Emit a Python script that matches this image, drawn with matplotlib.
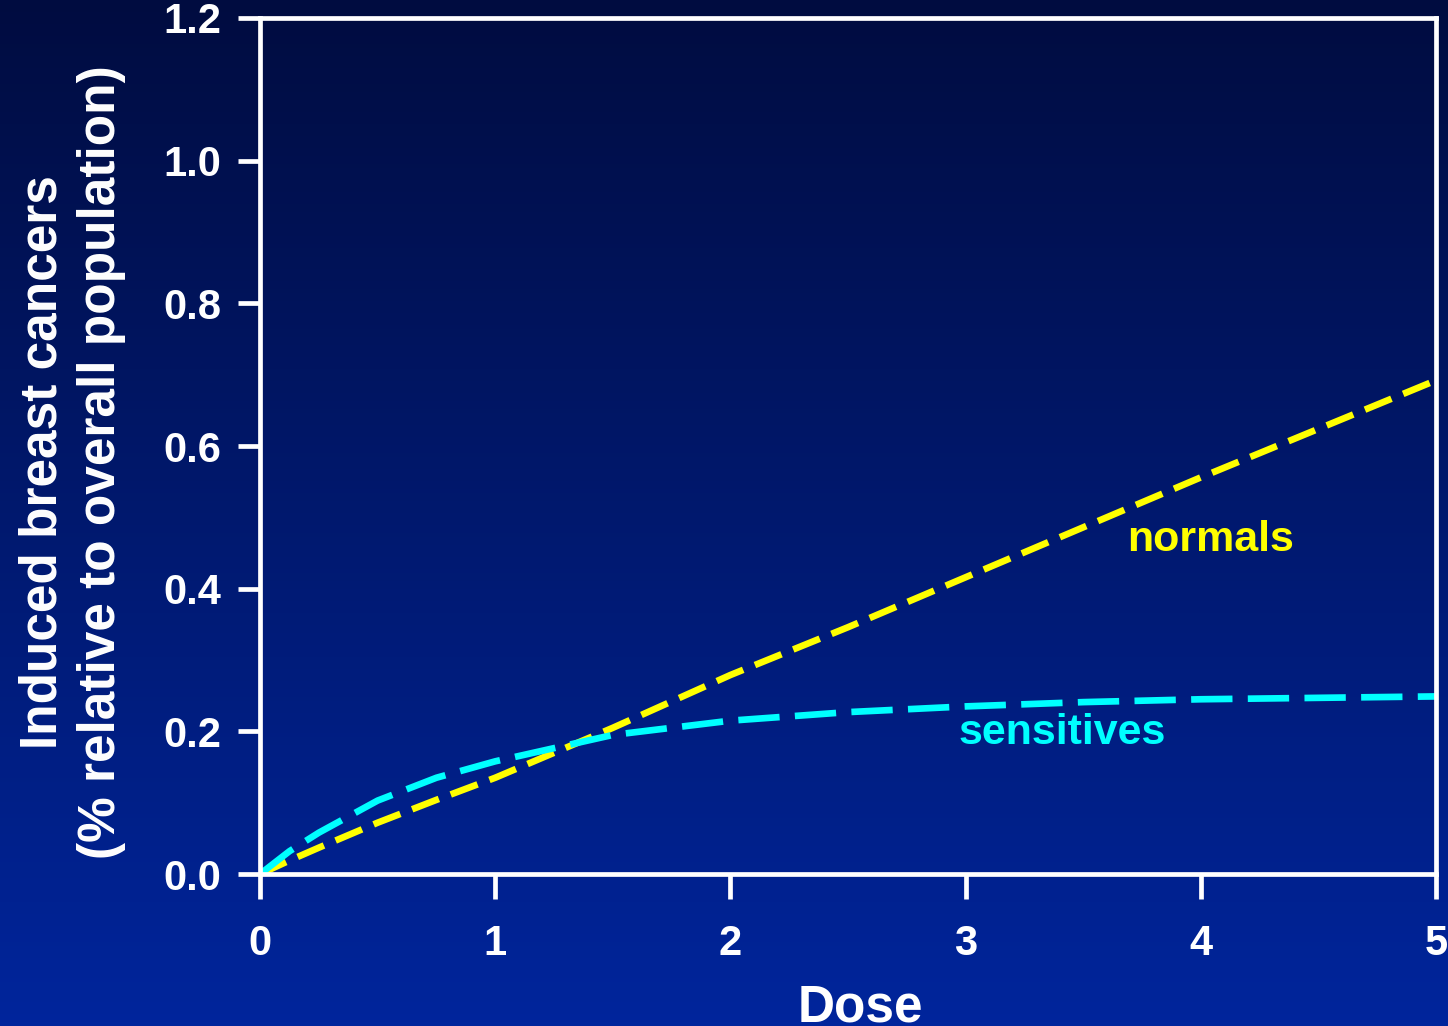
import matplotlib.pyplot as plt
import numpy as np
from matplotlib.colors import LinearSegmentedColormap

plt.rcParams['font.family'] = ['Liberation Sans', 'DejaVu Sans']
plt.rcParams['font.weight'] = 'bold'

# data
dose = [0, 0.125, 0.25, 0.5, 0.75, 1, 1.5, 2, 2.5, 3, 3.5, 4, 4.5, 5]
normals = [0, 0.019, 0.037, 0.072, 0.104, 0.135, 0.205, 0.279, 0.346, 0.416, 0.486, 0.556, 0.624, 0.692]
sensitives = [0, 0.032, 0.058, 0.103, 0.135, 0.158, 0.195, 0.215, 0.227, 0.235, 0.241, 0.245, 0.247, 0.249]
xticks = [0, 1, 2, 3, 4, 5]
yticks = [0.0, 0.2, 0.4, 0.6, 0.8, 1.0, 1.2]

fig = plt.figure(figsize=(14.48, 10.26), dpi=100)

# gradient background, dark navy at top to brighter blue at bottom
bg = fig.add_axes([0, 0, 1, 1], zorder=0)
cmap = LinearSegmentedColormap.from_list('bg', ['#00259c', '#000c40'])
grad = np.linspace(0, 1, 256).reshape(-1, 1)
bg.imshow(grad, aspect='auto', cmap=cmap, origin='lower', extent=[0, 1, 0, 1])
bg.axis('off')

ax = fig.add_axes([0.1796, 0.1481, 0.8121, 0.8344], zorder=1)
ax.patch.set_alpha(0)

ax.plot(dose, normals, color='#ffff00', lw=4.8, dashes=(4.3, 1.9))
ax.plot(dose, sensitives, color='#00ffff', lw=4.8, dashes=(6.2, 2.3))

ax.text(3.686, 0.468, 'normals', color='#ffff00', fontsize=31, va='center', ha='left')
ax.text(2.968, 0.198, 'sensitives', color='#00ffff', fontsize=31, va='center', ha='left')

ax.set_xlim(0, 5)
ax.set_ylim(0, 1.2)
ax.set_xticks(xticks)
ax.set_xticklabels([str(t) for t in xticks])
ax.set_yticks(yticks)
ax.set_yticklabels(['%.1f' % t for t in yticks])

for s in ax.spines.values():
    s.set_color('white')
    s.set_linewidth(3.4)
    s.set_capstyle('projecting')

ax.tick_params(axis='both', colors='white', labelsize=30, width=3.4, direction='out')
ax.tick_params(axis='y', length=16, pad=12)
ax.tick_params(axis='x', length=18, pad=18)
for lab in ax.get_xticklabels() + ax.get_yticklabels():
    lab.set_fontweight('bold')

fig.text(0.05, 0.55, 'Induced breast cancers\n(% relative to overall population)',
         rotation=90, color='white', fontsize=37, ha='center', va='center',
         multialignment='center', linespacing=1.25)
fig.text(0.594, 0.004, 'Dose', color='white', fontsize=37, ha='center', va='baseline')

fig.savefig('out.png', dpi=100)
